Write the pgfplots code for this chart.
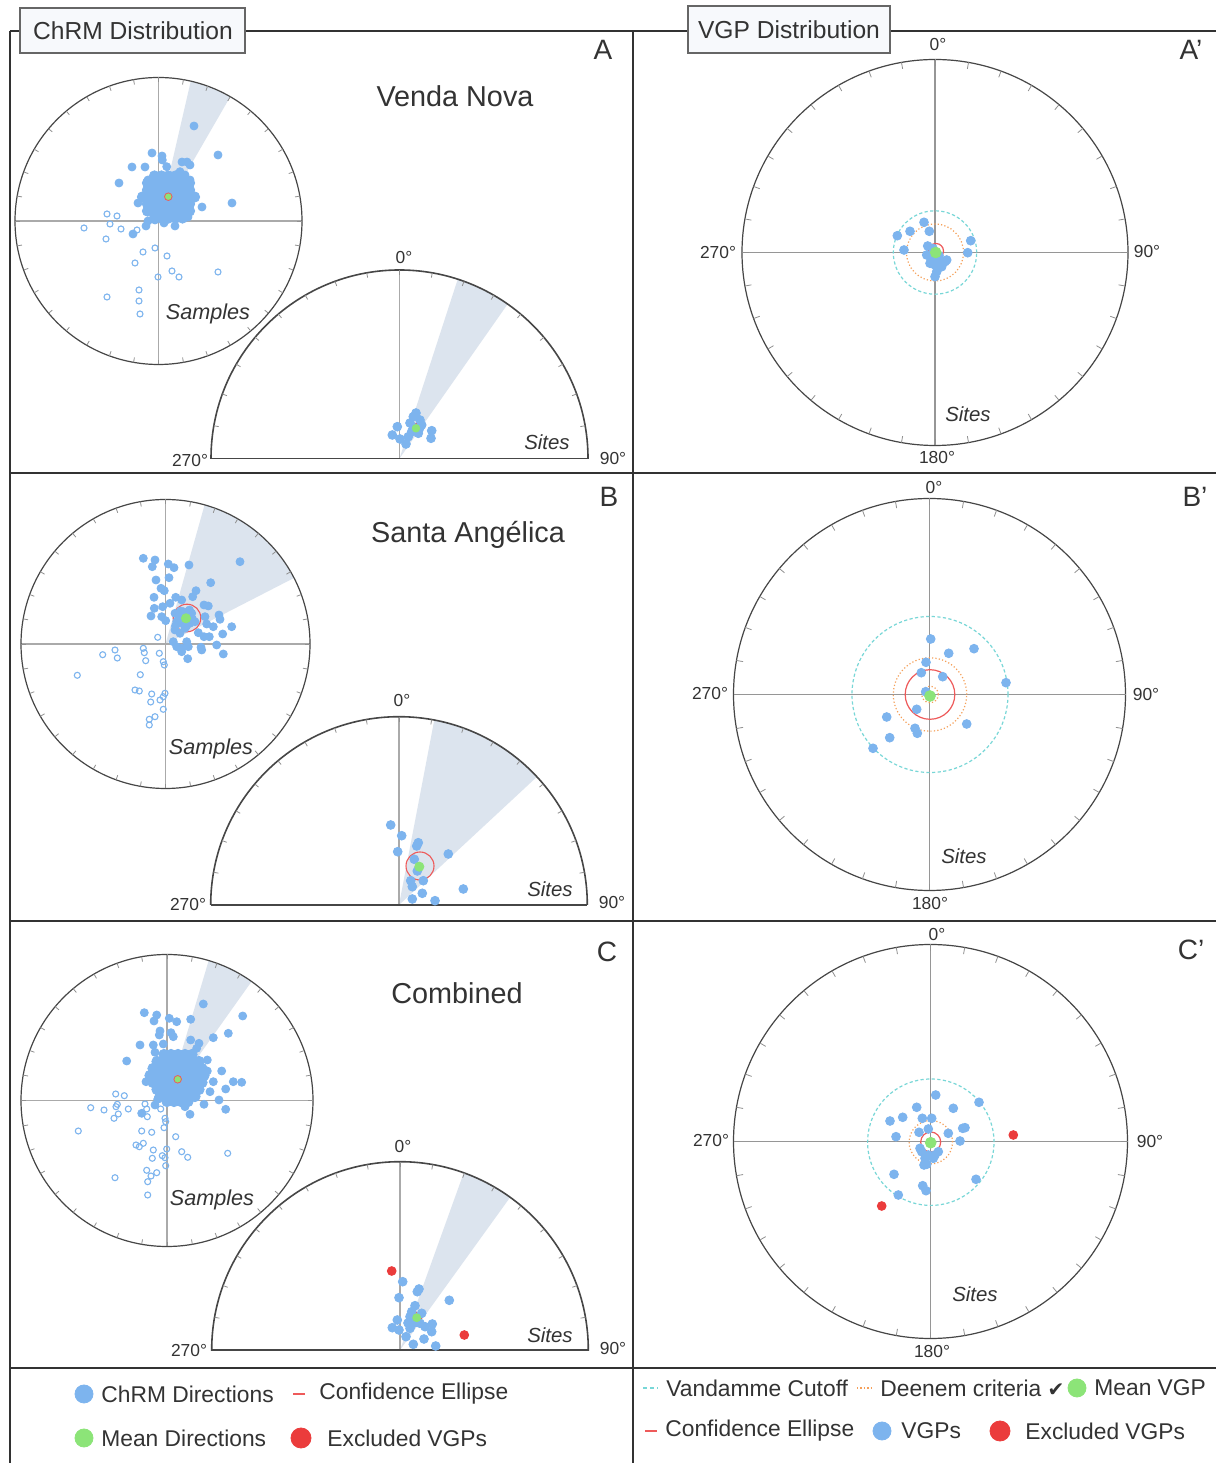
\documentclass[border=0pt]{standalone}
\usepackage{fontspec}
\setmainfont{Liberation Sans}
\newfontfamily\djv{DejaVu Sans}
\usepackage{pgfplots}
\pgfplotsset{compat=1.18}
\definecolor{ptblue}{RGB}{125,180,238}
\definecolor{mgreen}{RGB}{140,228,120}
\definecolor{exred}{RGB}{235,60,60}
\definecolor{elred}{RGB}{238,90,90}
\definecolor{vcyan}{RGB}{120,215,215}
\definecolor{dorange}{RGB}{245,160,90}
\definecolor{wedgec}{RGB}{220,228,238}
\definecolor{netc}{RGB}{70,70,70}
\definecolor{gridc}{RGB}{170,170,170}
\definecolor{gridv}{RGB}{150,150,150}
\definecolor{framec}{RGB}{50,50,50}
\definecolor{boxfill}{RGB}{247,249,252}
\newcommand\fs[1]{\fontsize{#1}{#1}\selectfont}
\pgfplotsset{
 closedS/.style={only marks, mark=*, mark size=2pt, color=ptblue},
 blobS/.style={only marks, mark=*, mark size=2.6pt, color=ptblue},
 openS/.style={only marks, mark=o, mark size=1.5pt, color=ptblue, mark options={line width=0.55pt}},
 site/.style={only marks, mark=*, mark size=2.2pt, color=ptblue},
 meanS/.style={only marks, mark=*, mark size=1.9pt, mark options={fill=mgreen, draw=elred, line width=0.4pt}},
 meanV/.style={only marks, mark=*, mark size=2.7pt, color=mgreen},
 excl/.style={only marks, mark=*, mark size=2.2pt, color=exred},
 netax/.style={hide axis, scale only axis, clip=false, anchor=center},
}
\newcommand\wedgefill[3]{%
\fill[wedgec] (axis cs:0,0)
 -- (axis cs:{#1*sin(#2)},{#1*cos(#2)})
 -- (axis cs:{#1*sin(#2+0.125*(#3-#2))},{#1*cos(#2+0.125*(#3-#2))})
 -- (axis cs:{#1*sin(#2+0.25*(#3-#2))},{#1*cos(#2+0.25*(#3-#2))})
 -- (axis cs:{#1*sin(#2+0.375*(#3-#2))},{#1*cos(#2+0.375*(#3-#2))})
 -- (axis cs:{#1*sin(#2+0.5*(#3-#2))},{#1*cos(#2+0.5*(#3-#2))})
 -- (axis cs:{#1*sin(#2+0.625*(#3-#2))},{#1*cos(#2+0.625*(#3-#2))})
 -- (axis cs:{#1*sin(#2+0.75*(#3-#2))},{#1*cos(#2+0.75*(#3-#2))})
 -- (axis cs:{#1*sin(#2+0.875*(#3-#2))},{#1*cos(#2+0.875*(#3-#2))})
 -- (axis cs:{#1*sin(#3)},{#1*cos(#3)}) -- cycle;}
\newcommand\netdeco[2]{%
 \draw[#2, line width=0.55pt] (axis cs:-#1,0) -- (axis cs:#1,0);
 \draw[#2, line width=0.55pt] (axis cs:0,-#1) -- (axis cs:0,#1);
 \draw[netc, line width=0.6pt] (axis cs:0,0) circle[radius=#1];
 \pgfplotsinvokeforeach{0,10,...,350}{%
   \draw[netc!60, line width=0.4pt] (axis cs:{#1*cos(##1)},{#1*sin(##1)}) -- (axis cs:{0.966*#1*cos(##1)},{0.966*#1*sin(##1)});}%
}
\newcommand\halfdeco[1]{%
 \draw[gridc, line width=0.6pt] (axis cs:0,0) -- (axis cs:0,#1);
 \begin{scope}
 \clip (axis cs:{-#1-5},0) rectangle (axis cs:{#1+5},{#1+5});
 \draw[netc, line width=0.8pt] (axis cs:0,0) circle[radius=#1];
 \end{scope}
 \draw[netc, line width=0.8pt] (axis cs:-#1,0) -- (axis cs:#1,0);
 \pgfplotsinvokeforeach{10,20,...,170}{%
   \draw[netc!60, line width=0.4pt] (axis cs:{#1*cos(##1)},{#1*sin(##1)}) -- (axis cs:{0.974*#1*cos(##1)},{0.974*#1*sin(##1)});}%
}
\begin{document}
\begin{tikzpicture}[x=0.5pt,y=0.5pt]
\useasboundingbox (0,0) rectangle (1216,1463);
\fill[white] (0,0) rectangle (1216,1463);
% frame
\draw[framec, line width=1pt] (10,{1463-31}) -- (1216,{1463-31});
\draw[framec, line width=1pt] (10,{1463-31}) -- (10,0);
\draw[framec, line width=1pt] (633,{1463-31}) -- (633,0);
\draw[framec, line width=1pt] (10,{1463-473}) -- (1216,{1463-473});
\draw[framec, line width=1pt] (10,{1463-921}) -- (1216,{1463-921});
\draw[framec, line width=1pt] (10,{1463-1368}) -- (1216,{1463-1368});
\draw[gray!80!black, line width=0.6pt, fill=boxfill] (20,{1463-8}) rectangle (245,{1463-53});
\node[font=\fs{12.3}, text=black!80] at (133,{1463-31}) {ChRM Distribution};
\draw[gray!80!black, line width=0.6pt, fill=boxfill] (688,{1463-6}) rectangle (890,{1463-53});
\node[font=\fs{12.3}, text=black!80] at (789,{1463-30}) {VGP Distribution};

%%%%% A samples
\begin{axis}[netax, at={(158.5,1242)}, width=143.5pt, height=143.5pt, xmin=-143.5, xmax=143.5, ymin=-143.5, ymax=143.5]
\wedgefill{143.5}{13}{30}
\netdeco{143.5}{gridc}
\addplot[openS] coordinates {(-51.5,7) (-41.5,5) (-48.5,-3) (-74.5,-7) (-37.5,-8) (-21.5,-9) (-52.5,-18) (-3.5,-27) (-15.5,-31) (8.5,-35) (-23.5,-42) (13.5,-50) (20.5,-56) (-0.5,-56) (59.5,-51) (-19.5,-69) (-51.5,-76) (-19.5,-80) (-18.5,-93)};
\addplot[closedS] coordinates {(35.5,95) (59.5,66) (-6.5,68) (3.5,65) (-26.5,54) (-13.5,54) (23.5,59) (28.5,59) (31.5,56) (-39.5,38) (-10.5,41) (73.5,18) (43.5,14) (-20.5,18) (-25.5,-13) (-12.5,-5) (-10.5,0) (-3.5,1) (5.5,-2) (16.5,-5) (21.5,4) (29.5,4) (21.5,49.3) (26.5,46) (3.8,61) (8.2,54.3) (31.5,41)};
\addplot[blobS] coordinates {
 (-4,45) (3,45) (10,45) (17,45) (24,45)
 (-11,38) (-4,38) (3,38) (10,38) (17,38) (24,38) (31,38)
 (-11,31) (-4,31) (3,31) (10,31) (17,31) (24,31) (31,31)
 (-16,24) (-11,24) (-4,24) (3,24) (10,24) (17,24) (24,24) (31,24) (36,24)
 (-11,17) (-4,17) (3,17) (10,17) (17,17) (24,17) (31,17)
 (-11,10) (-4,10) (3,10) (10,10) (17,10) (24,10) (31,10)
 (-4,3) (3,3) (10,3) (17,3) (24,3)};
\addplot[meanS] coordinates {(9.8,24.3)};
\end{axis}
%%%%% A sites
\begin{axis}[netax, anchor=south, at={(399.5,1004.5)}, width=188.5pt, height=94.25pt, xmin=-188.5, xmax=188.5, ymin=0, ymax=188.5]
\wedgefill{188.5}{18}{35}
\halfdeco{188.5}
\addplot[site] coordinates {(13.8,41.8) (16.5,45.5) (20.5,38.5) (10.5,35.5) (22.2,33.5) (12.2,26.8) (18.8,25.2) (8.8,21.8) (-2.2,31.8) (-7.2,23.5) (0.5,19.5) (6.5,14.5) (32.2,27.8) (31.5,20.2) (14,31) (20,30)};
\draw[elred, line width=0.6pt] (axis cs:16.5,30.2) circle[radius=4.8];
\addplot[only marks, mark=*, mark size=1.9pt, color=mgreen] coordinates {(16.5,30.2)};
\end{axis}
%%%%% A' VGP
\begin{axis}[netax, at={(935,1210.5)}, width=193pt, height=193pt, xmin=-193, xmax=193, ymin=-193, ymax=193]
\netdeco{193}{gridv}
\draw[vcyan, line width=0.6pt, dash pattern=on 1.6pt off 1.2pt] (axis cs:0,0) circle[radius=41.7];
\draw[dorange, line width=0.6pt, dash pattern=on 0.6pt off 1.1pt] (axis cs:0,0) circle[radius=28.5];
\addplot[site] coordinates {(-37.7,16.8) (-25,21.2) (-11,30.2) (-5.7,21.2) (35.7,11.8) (32.7,-0.2) (-31,2.5) (-7.3,6.5) (-8.3,-2.5) (-3.3,-7.5) (3.3,-7.5) (10,-9.2) (0,-12.5) (-5,-10.8) (6.7,-14.2) (0,-24.2) (1.7,-19.2) (11.7,-7.5) (-2,4) (4,-3)};
\draw[elred, line width=0.6pt] (axis cs:1,1.5) circle[radius=7.5];
\addplot[meanV] coordinates {(0.7,0)};
\end{axis}

%%%%% B samples
\begin{axis}[netax, at={(165.5,819)}, width=144.5pt, height=144.5pt, xmin=-144.5, xmax=144.5, ymin=-144.5, ymax=144.5]
\wedgefill{144.5}{15.7}{62.8}
\netdeco{144.5}{gridc}
\addplot[openS] coordinates {(-7.8,6.7) (-50.5,-6) (-62.8,-10.7) (-48.2,-14) (-22.2,-4.3) (-21.2,-8.7) (-19.8,-16.7) (-6.2,-9.3) (-2.2,-17.7) (-1.2,-21) (-88.2,-31.3) (-25.2,-30.7) (-30.5,-46) (-26.2,-47) (-13.8,-50) (-0.5,-49.3) (-2.2,-52.7) (-5.5,-56) (-14.8,-58) (-2.2,-65.3) (-10.5,-72.7) (-16.2,-75.3) (-16.2,-81)};
\addplot[closedS] coordinates {(-22.2,85.7) (-10.5,84) (-13.2,77.3) (2.8,80) (8.5,76.3) (23.5,79) (74.5,82.3) (-9.5,64) (3.5,66.3) (45.2,61.3) (-4.5,55.7) (-1.2,53.3) (30.5,53.3) (-11.5,46.7) (10.2,46.7) (16.2,44) (27.2,47.3) (4.5,40.7) (-11.2,35.7) (-2.8,37.3) (38.5,39) (42.8,38) (-14.5,28) (-3.8,27.3) (0.2,23.3) (9.5,30.7) (39.5,27.3) (53.5,29) (54.5,24.7) (41.2,20) (47.8,17.3) (66.2,17.3) (9.5,14) (14.5,10.7) (32.8,11.3) (57.2,10) (38.5,7.3) (43.8,7.3) (7.8,2.3) (21.2,2.3) (22.8,-2.7) (11.2,-2.7) (16.2,-4.3) (51.2,-1) (35.5,-3.3) (36.2,-6) (16.2,-7.7) (57.8,-10) (22.2,-14.7)
 (12.8,29) (17.8,32.3) (26.2,30.7) (16.2,20.7) (24.5,20.7) (11.2,22.3) (19.5,15.7) (29.5,22.3) (14,26) (27,25) (21,18) (15,33) (21,30) (24,34) (10,18)};
\draw[elred, line width=0.55pt] (axis cs:21.5,26) circle[radius=13.8];
\addplot[only marks, mark=*, mark size=2.3pt, color=mgreen] coordinates {(20.5,25.7)};
\end{axis}
%%%%% B sites
\begin{axis}[netax, anchor=south, at={(399,558)}, width=188.3pt, height=94.15pt, xmin=-188.3, xmax=188.3, ymin=0, ymax=188.3]
\wedgefill{188.3}{10.8}{47.1}
\halfdeco{188.3}
\addplot[site] coordinates {(-8.3,80) (2.7,69.3) (19.3,62.3) (17.7,59) (-1.3,53.3) (49.3,51) (15.3,45.7) (18.3,34) (11.7,24.3) (24.3,24.3) (13.3,18.3) (64.3,16) (23.3,11.7) (13.3,6) (36,4.3)};
\draw[elred, line width=0.55pt] (axis cs:21,39) circle[radius=14];
\addplot[only marks, mark=*, mark size=2.3pt, color=mgreen] coordinates {(20.3,38.3)};
\end{axis}
%%%%% B' VGP
\begin{axis}[netax, at={(929.5,768.5)}, width=196pt, height=196pt, xmin=-196, xmax=196, ymin=-196, ymax=196]
\netdeco{196}{gridv}
\draw[vcyan, line width=0.6pt, dash pattern=on 1.6pt off 1.2pt] (axis cs:0.5,0) circle[radius=78];
\draw[dorange, line width=0.6pt, dash pattern=on 0.6pt off 1.1pt] (axis cs:0.5,0) circle[radius=36.7];
\draw[dorange, line width=0.6pt, dash pattern=on 0.6pt off 1.1pt] (axis cs:0.5,0) circle[radius=8.3];
\draw[elred, line width=0.6pt] (axis cs:0.5,0) circle[radius=24.8];
\addplot[site] coordinates {(1.2,55.5) (19.2,41.2) (44.5,45.8) (-3.5,32.2) (-8.2,21.8) (13.2,17.8) (76.5,11.8) (-3.8,2.8) (-12.8,-14.8) (-42.8,-22.5) (-14.5,-33.8) (-12.2,-38.8) (37.2,-29.5) (-39.8,-43.2) (-56.5,-53.8)};
\addplot[meanV] coordinates {(0.5,-1.5)};
\end{axis}

%%%%% C samples
\begin{axis}[netax, at={(167,362.5)}, width=146pt, height=146pt, xmin=-146, xmax=146, ymin=-146, ymax=146]
\wedgefill{146}{16.6}{35.4}
\netdeco{146}{gridc}
\addplot[openS] coordinates {(-51.3,6.5) (-42.7,4.8) (-49.7,-3.8) (-51,-6.2) (-76.3,-7.2) (-63,-9.5) (-38.7,-8.5) (-48.7,-13.5) (-53,-17.8) (-22,-3.5) (-20.3,-8.5) (-6.3,-8.5) (-19.7,-16.2) (-2,-17.8) (-1.3,-21.2) (-88.7,-30.5) (-25.3,-30.5) (-15.3,-31.8) (-3,-27.2) (8.7,-36.2) (-31,-44.5) (-23.7,-42.8) (-27.7,-46.2) (-13.7,-49.5) (-0.3,-48.5) (-4.7,-55.2) (-2,-57.2) (-14.7,-57.8) (14.7,-51.2) (20.7,-56.8) (60.7,-52.8) (-1.3,-65.2) (-20.3,-69.8) (-10.3,-72.2) (-16,-75.5) (-19.3,-81.2) (-52,-77.2) (-19.3,-94.5)};
\addplot[closedS] coordinates {(-22.7,87.8) (-10.3,85.5) (-13,79.5) (2.3,82.2) (9.7,78.8) (23.7,81.2) (36.3,96.5) (75.7,84.5) (-7,69.5) (-7.7,65.5) (4,67.8) (6.3,63.8) (23.7,60.5) (32,57.2) (29.7,52.2) (46.3,62.8) (61.3,67.2) (-27,55.5) (-13.7,55.5) (-3.7,56.5) (-12,48.2) (-40.3,39.5) (40.3,40.5) (54.7,29.5) (40.3,29.5) (66.3,18.8) (74.7,18.2) (46.3,18.8) (-21,18.8) (58.7,11.5) (43,8.8) (52,0.5) (37,-3.8) (58.7,-8.8) (23,-13.8) (-12,-4.5) (-9.3,1.2) (18,-6.2) (9.7,-1.2) (-25.3,-12.8)};
\addplot[blobS] coordinates {
 (-3,46) (4,46) (11,46) (18,46) (25,46)
 (-10,39) (-3,39) (4,39) (11,39) (18,39) (25,39) (32,39)
 (-14,32) (-7,32) (0,32) (7,32) (14,32) (21,32) (28,32) (35,32)
 (-17,25) (-10,25) (-3,25) (4,25) (11,25) (18,25) (25,25) (32,25) (37,25)
 (-14,18) (-7,18) (0,18) (7,18) (14,18) (21,18) (28,18) (35,18)
 (-10,11) (-3,11) (4,11) (11,11) (18,11) (25,11) (32,11)
 (-7,4) (0,4) (7,4) (14,4) (21,4) (28,4)
 (0,-1) (7,-1) (14,-1) (21,-1)};
\addplot[meanS] coordinates {(10.7,21.2)};
\end{axis}
%%%%% C sites
\begin{axis}[netax, anchor=south, at={(400,113)}, width=188.3pt, height=94.15pt, xmin=-188.3, xmax=188.3, ymin=0, ymax=188.3]
\wedgefill{188.3}{19.8}{35.8}
\halfdeco{188.3}
\addplot[site] coordinates {(2.7,68.3) (19,61) (17.3,58.3) (-1,52.3) (49.3,49.7) (15,44.3) (10,33.3) (21.7,36.7) (13.3,26.7) (20,26.7) (11.7,38.3) (-2.7,30) (-7.7,22.3) (-1,20) (10,21.7) (25,23.3) (32.3,26) (31.7,18.3) (6,13.3) (24,11) (13.3,5.7) (35.7,4) (16,28) (8,27)};
\addplot[excl] coordinates {(-8.3,79) (64.3,15)};
\draw[elred, line width=0.6pt] (axis cs:16.7,32.3) circle[radius=5];
\addplot[only marks, mark=*, mark size=2pt, color=mgreen] coordinates {(16.7,32.3)};
\end{axis}
%%%%% C' VGP
\begin{axis}[netax, at={(930.5,321.5)}, width=197pt, height=197pt, xmin=-197, xmax=197, ymin=-197, ymax=197]
\netdeco{197}{gridv}
\draw[vcyan, line width=0.6pt, dash pattern=on 1.6pt off 1.2pt] (axis cs:0.3,-0.7) circle[radius=63.2];
\draw[dorange, line width=0.6pt, dash pattern=on 0.6pt off 1.1pt] (axis cs:0.3,-0.7) circle[radius=21.7];
\addplot[site] coordinates {(5.2,46.5) (48.5,39.2) (-13.8,34.2) (22.8,33.2) (-27.8,24.2) (-40.5,20.5) (-8.2,23.2) (1.2,23.2) (34.5,13.8) (32.2,13.2) (-2.2,12.5) (-11.5,9.2) (17.8,8.2) (-34.5,4.8) (29.5,0.5) (-8.8,-10.2) (-2.2,-13.5) (4.5,-13.5) (7.8,-10.2) (-5.5,-16.8) (2.8,-16.8) (-10.5,-6.8) (-6.5,-23.5) (-3.8,-22.8) (-36.5,-32.8) (45.5,-37.8) (-7.8,-44.2) (-4.5,-49.2) (-32.2,-53.5)};
\addplot[excl] coordinates {(82.8,6.5) (-48.8,-64.5)};
\draw[elred, line width=0.6pt] (axis cs:0.2,-0.5) circle[radius=10];
\addplot[meanV] coordinates {(0.2,-1.2)};
\end{axis}

%%%%% legend strip (pixel coordinates, y downward)
\begin{axis}[hide axis, scale only axis, clip=false, anchor=south west, at={(0,0)},
  width=608pt, height=47.5pt, xmin=0, xmax=1216, ymin=1368, ymax=1463, y dir=reverse]
\addplot[only marks, mark=*, mark size=4.5pt, color=ptblue] coordinates {(84,1394) (882,1431)};
\addplot[only marks, mark=*, mark size=4.5pt, color=mgreen] coordinates {(84,1438) (1077,1388)};
\addplot[only marks, mark=*, mark size=5pt, color=exred] coordinates {(301,1438) (1000,1431)};
\addplot[elred, line width=0.9pt] coordinates {(293,1394) (305,1394)};
\addplot[elred, line width=0.9pt] coordinates {(645,1431) (657,1431)};
\addplot[vcyan, line width=0.8pt, dash pattern=on 2pt off 1.5pt] coordinates {(643,1388) (658,1388)};
\addplot[dorange, line width=0.8pt, dash pattern=on 0.7pt off 1pt] coordinates {(857,1388) (872,1388)};
\begin{scope}[every node/.style={anchor=west, inner sep=0pt, font=\fs{11.4}, text=black!80}]
\node at (axis cs:101,1394) {ChRM Directions};
\node at (axis cs:319,1394) {Confidence Ellipse};
\node at (axis cs:101,1438) {Mean Directions};
\node at (axis cs:327,1438) {Excluded VGPs};
\node at (axis cs:666,1388) {Vandamme Cutoff};
\node at (axis cs:880,1388) {Deenem criteria {\djv\fs{10}✔}};
\node at (axis cs:1094,1388) {Mean VGP};
\node at (axis cs:665,1431) {Confidence Ellipse};
\node at (axis cs:901,1431) {VGPs};
\node at (axis cs:1025,1431) {Excluded VGPs};
\end{scope}
\end{axis}

%%%%% text labels
\begin{scope}[every node/.style={inner sep=0pt, text=black!80}]
\node[font=\fs{14}] at (603,{1463-50}) {A};
\node[font=\fs{14}] at (1191,{1463-50}) {A’};
\node[font=\fs{14}] at (609,{1463-497}) {B};
\node[font=\fs{14}] at (1195,{1463-497}) {B’};
\node[font=\fs{14}] at (607,{1463-952}) {C};
\node[font=\fs{14}] at (1191,{1463-950}) {C’};
\node[font=\fs{14.4}] at (455,{1463-96}) {Venda Nova};
\node[font=\fs{14.4}] at (468,{1463-535}) {Santa Angélica};
\node[font=\fs{14.4}] at (457,{1463-993}) {Combined};
\node[font=\fs{10.8}\itshape] at (208,{1463-314}) {Samples};
\node[font=\fs{10.8}\itshape] at (211,{1463-749}) {Samples};
\node[font=\fs{10.8}\itshape] at (212,{1463-1200}) {Samples};
\node[font=\fs{10.2}\itshape] at (547,{1463-442}) {Sites};
\node[font=\fs{10.2}\itshape] at (550,{1463-889}) {Sites};
\node[font=\fs{10.2}\itshape] at (550,{1463-1335}) {Sites};
\node[font=\fs{10.2}\itshape] at (968,{1463-414}) {Sites};
\node[font=\fs{10.2}\itshape] at (964,{1463-856}) {Sites};
\node[font=\fs{10.2}\itshape] at (975,{1463-1294}) {Sites};
% degree labels
\node[font=\fs{8.7}] at (404,{1463-258}) {0°};
\node[font=\fs{8.7}] at (190,{1463-461}) {270°};
\node[font=\fs{8.7}] at (613,{1463-459}) {90°};
\node[font=\fs{8.7}] at (402,{1463-701}) {0°};
\node[font=\fs{8.7}] at (188,{1463-905}) {270°};
\node[font=\fs{8.7}] at (612,{1463-903}) {90°};
\node[font=\fs{8.7}] at (403,{1463-1147}) {0°};
\node[font=\fs{8.7}] at (189,{1463-1351}) {270°};
\node[font=\fs{8.7}] at (613,{1463-1349}) {90°};
\node[font=\fs{8.7}] at (938,{1463-45}) {0°};
\node[font=\fs{8.7}] at (1147,{1463-252}) {90°};
\node[font=\fs{8.7}] at (718,{1463-253}) {270°};
\node[font=\fs{8.7}] at (937,{1463-458}) {180°};
\node[font=\fs{8.7}] at (934,{1463-488}) {0°};
\node[font=\fs{8.7}] at (1146,{1463-695}) {90°};
\node[font=\fs{8.7}] at (710,{1463-694}) {270°};
\node[font=\fs{8.7}] at (930,{1463-904}) {180°};
\node[font=\fs{8.7}] at (937,{1463-935}) {0°};
\node[font=\fs{8.7}] at (1150,{1463-1142}) {90°};
\node[font=\fs{8.7}] at (711,{1463-1141}) {270°};
\node[font=\fs{8.7}] at (932,{1463-1352}) {180°};
\end{scope}
\end{tikzpicture}
\end{document}
